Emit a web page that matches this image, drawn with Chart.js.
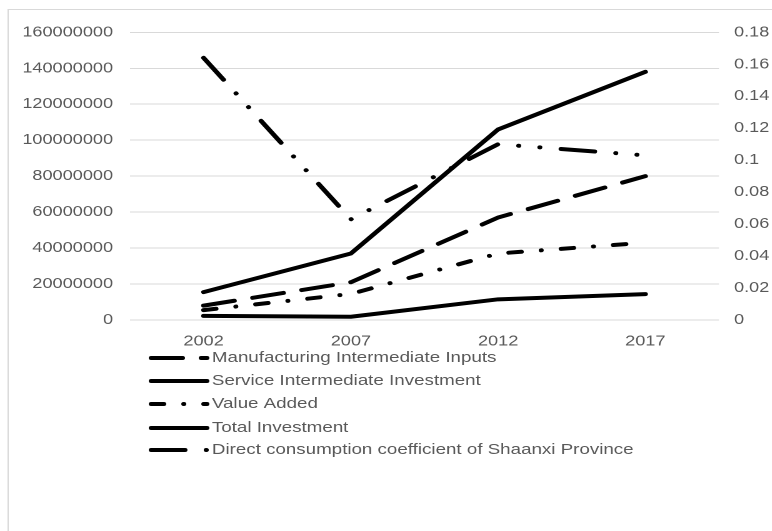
<!DOCTYPE html>
<html>
<head>
<meta charset="utf-8">
<script src="https://cdn.jsdelivr.net/npm/chart.js@4.4.1/dist/chart.umd.min.js"></script>
<style>
  html, body { margin: 0; padding: 0; background: #fff; overflow: hidden; }
  /* the reference picture is stretched sideways, so the chart is too */
  #wrap { width: 618px; height: 531px; transform: scaleX(1.25); transform-origin: 0 0; }
</style>
</head>
<body>
<div id="wrap"><canvas id="chart" width="618" height="531"></canvas></div>
<script>
// Data
const years = ['2002', '2007', '2012', '2017'];
const manufacturing = [8000000, 21000000, 57000000, 80000000];
const service = [2300000, 1800000, 11500000, 14400000];
const valueAdded = [5500000, 14500000, 37000000, 43000000];
const totalInvestment = [15500000, 37000000, 106000000, 138000000];
const coefficient = [0.164, 0.063, 0.11, 0.103];

const leftTicks = [0, 20000000, 40000000, 60000000, 80000000, 100000000, 120000000, 140000000, 160000000];
const rightTicks = [0, 0.02, 0.04, 0.06, 0.08, 0.1, 0.12, 0.14, 0.16, 0.18];

const FONT = "'Liberation Sans', Arial, sans-serif";
const GREY_TEXT = '#595959';
const GRID = '#d9d9d9';

function line(label, data, dash, axis) {
    return {
        label: label,
        data: data,
        yAxisID: axis,
        borderColor: '#000',
        borderWidth: 4,
        borderDash: dash,
        borderCapStyle: 'round',
        borderJoinStyle: 'round',
        pointRadius: 0,
        pointHoverRadius: 0,
        fill: false,
        tension: 0
    };
}

// Frame round the chart
const framePlugin = {
    id: 'frame',
    beforeDraw(chart) {
        const ctx = chart.ctx;
        ctx.save();
        ctx.strokeStyle = GRID;
        ctx.lineWidth = 1;
        ctx.strokeRect(6.5, 9.5, chart.width + 20, chart.height + 20);
        ctx.restore();
    }
};

// Legend stacked one per row, under the axis
const legendPlugin = {
    id: 'stackedLegend',
    afterDraw(chart) {
        const ctx = chart.ctx;
        const rows = [358, 381, 404, 428, 450];
        ctx.save();
        chart.data.datasets.forEach((ds, i) => {
            const y = rows[i];
            ctx.strokeStyle = '#000';
            ctx.lineWidth = 4;
            ctx.lineCap = 'round';
            ctx.setLineDash(ds.borderDash || []);
            ctx.beginPath();
            ctx.moveTo(121, y);
            ctx.lineTo(165.5, y);
            ctx.stroke();
            ctx.setLineDash([]);
            ctx.fillStyle = GREY_TEXT;
            ctx.font = '15px ' + FONT;
            ctx.textBaseline = 'middle';
            ctx.fillText(ds.label, 169.5, y);
        });
        ctx.restore();
    }
};

new Chart(document.getElementById('chart'), {
    type: 'line',
    data: {
        labels: years,
        datasets: [
            line('Manufacturing Intermediate Inputs', manufacturing, [25, 15], 'y'),
            line('Service Intermediate Investment', service, [], 'y'),
            line('Value Added', valueAdded, [10, 16, 0.01, 16], 'y'),
            line('Total Investment', totalInvestment, [], 'y'),
            line('Direct consumption coefficient of Shaanxi Province', coefficient, [27, 17, 0.01, 17, 0.01, 17], 'y1')
        ]
    },
    options: {
        responsive: false,
        animation: false,
        devicePixelRatio: 2,
        layout: { padding: { top: 32.3, bottom: 171, left: 0, right: 0 } },
        plugins: {
            legend: { display: false },
            tooltip: { enabled: false }
        },
        scales: {
            x: {
                offset: true,
                grid: { display: false },
                border: { display: false },
                ticks: { color: GREY_TEXT, font: { family: FONT, size: 14.5 }, padding: 5, maxRotation: 0 },
                afterFit: (scale) => { scale.height = 40; }
            },
            y: {
                position: 'left',
                min: 0,
                max: 160000000,
                afterBuildTicks: (scale) => { scale.ticks = leftTicks.map(v => ({ value: v })); },
                grid: { color: GRID, lineWidth: 1, drawTicks: false },
                border: { display: false },
                ticks: { color: GREY_TEXT, font: { family: FONT, size: 14.5 }, padding: 13.6, callback: (v) => String(v) },
                afterFit: (scale) => { scale.width = 104; }
            },
            y1: {
                position: 'right',
                min: 0,
                max: 0.18,
                afterBuildTicks: (scale) => { scale.ticks = rightTicks.map(v => ({ value: v })); },
                grid: { display: false, drawTicks: false },
                border: { display: false },
                ticks: { color: GREY_TEXT, font: { family: FONT, size: 14.5 }, padding: 12, callback: (v) => String(v) },
                afterFit: (scale) => { scale.width = 42.8; }
            }
        }
    },
    plugins: [framePlugin, legendPlugin]
});
</script>
</body>
</html>
